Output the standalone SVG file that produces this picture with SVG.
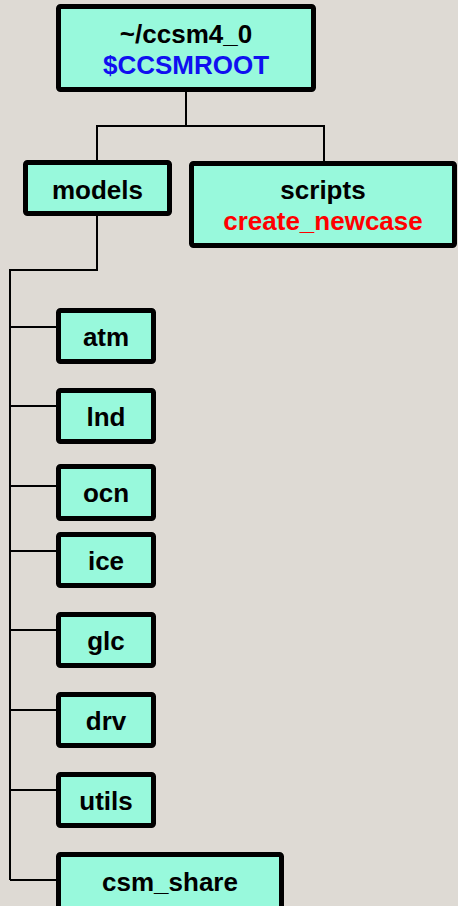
<svg xmlns="http://www.w3.org/2000/svg" width="458" height="906" viewBox="0 0 458 906">
<style>
.box{fill:#98f9dc;stroke:#000;stroke-width:5;}
text{font-family:"Liberation Sans",Arial,Helvetica,sans-serif;font-weight:700;font-size:26px;text-anchor:middle;fill:#000;}
.blue{fill:#1010f0;}
.red{fill:#ff0000;}
.c{fill:none;stroke:#000;stroke-width:2;}
</style>
<rect width="458" height="906" fill="#dedad4"/>
<g id="connectors">
<path class="c" d="M186,92 V126 M97,160 V126 H324 V161"/>
<path class="c" d="M97,216 V270 H10 V880"/>
<path class="c" d="M10,327 H56 M10,406 H56 M10,486 H56 M10,551 H56 M10,630 H56 M10,710 H56 M10,790 H56 M10,880 H56"/>
</g>
<g id="root"><rect class="box" x="58.5" y="6.5" width="255" height="83" rx="2"/>
<text x="186" y="43" font-weight="bold">~/ccsm4_0</text><text class="blue" x="186" y="74" font-weight="bold">$CCSMROOT</text></g>
<g id="models"><rect class="box" x="25.5" y="162.5" width="144" height="51" rx="2"/><text x="97.5" y="199" font-weight="bold">models</text></g>
<g id="scripts"><rect class="box" x="191.5" y="163.5" width="263" height="82" rx="2"/><text x="323" y="199" font-weight="bold">scripts</text><text class="red" x="323" y="230" font-weight="bold">create_newcase</text></g>
<g id="atm"><rect class="box" x="58.5" y="310.5" width="95" height="51" rx="2"/><text x="106" y="346" font-weight="bold">atm</text></g>
<g id="lnd"><rect class="box" x="58.5" y="390.5" width="95" height="51" rx="2"/><text x="106" y="426" font-weight="bold">lnd</text></g>
<g id="ocn"><rect class="box" x="58.5" y="466.5" width="95" height="52" rx="2"/><text x="106" y="502" font-weight="bold">ocn</text></g>
<g id="ice"><rect class="box" x="58.5" y="534.5" width="95" height="51" rx="2"/><text x="106" y="570" font-weight="bold">ice</text></g>
<g id="glc"><rect class="box" x="58.5" y="614.5" width="95" height="51" rx="2"/><text x="106" y="650" font-weight="bold">glc</text></g>
<g id="drv"><rect class="box" x="58.5" y="694.5" width="95" height="51" rx="2"/><text x="106" y="730" font-weight="bold">drv</text></g>
<g id="utils"><rect class="box" x="58.5" y="774.5" width="95" height="51" rx="2"/><text x="106" y="810" font-weight="bold">utils</text></g>
<g id="csm_share"><rect class="box" x="58.5" y="854.5" width="223" height="56" rx="2"/><text x="170" y="891" font-weight="bold">csm_share</text></g>
</svg>
